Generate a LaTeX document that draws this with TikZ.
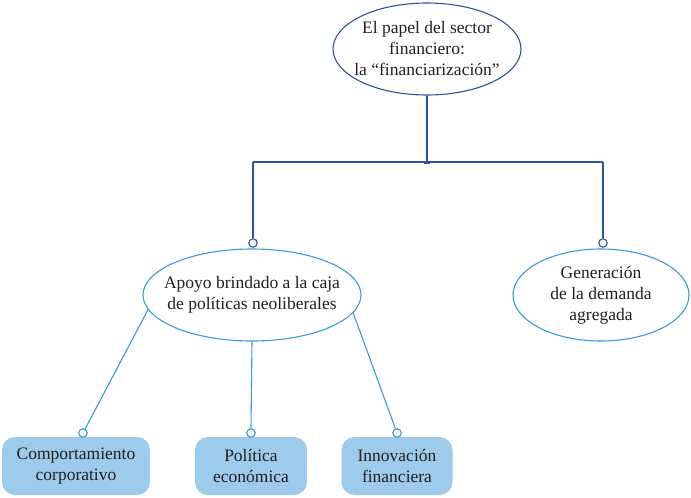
\documentclass[tikz,border=0pt]{standalone}
\usepackage{fontspec}
\setmainfont{Liberation Serif}
\usetikzlibrary{shapes.geometric,calc}
\definecolor{darkblue}{HTML}{2B5597}
\definecolor{lightblue}{HTML}{3C9BD5}
\definecolor{boxfill}{HTML}{9DCBEC}
\definecolor{txt}{HTML}{231F20}
\begin{document}
\begin{tikzpicture}[x=1pt,y=-1pt,
  lbl/.style={text=txt,align=center,inner sep=0pt,font=\fontsize{17.5}{21}\selectfont},
  topell/.style={ellipse,draw=darkblue,line width=1.1pt,inner sep=0pt},
  subell/.style={ellipse,draw=lightblue,line width=1.1pt,inner sep=0pt},
  leafbox/.style={rounded corners=13pt,fill=boxfill,minimum width=#1,minimum height=58pt,inner sep=0pt,lbl},
  darkline/.style={draw=darkblue,line width=1.1pt},
  lightline/.style={draw=lightblue,line width=1.1pt},
  darkknob/.style={circle,draw=darkblue,fill=white,line width=1.1pt,minimum size=8.5pt,inner sep=0pt},
  lightknob/.style={circle,draw=lightblue,fill=white,line width=1.1pt,minimum size=8.5pt,inner sep=0pt}]
\useasboundingbox (0,0) rectangle (691,498);
\fill[white] (0,0) rectangle (691,498);

\node[topell,minimum width=188pt,minimum height=92pt] (top) at (427,49) {};
\node[lbl] (toptxt) at (top) {El papel del sector\\financiero:\\la “financiarización”};
\node[subell,minimum width=218pt,minimum height=92pt] (apoyo) at (252,295) {};
\node[lbl] (apoyotxt) at (apoyo) {Apoyo brindado a la caja\\de políticas neoliberales};
\node[subell,minimum width=176pt,minimum height=92pt] (gen) at (601,295) {};
\node[lbl] (gentxt) at (gen) {Generación\\de la demanda\\agregada};

\node[leafbox=148pt] (comp) at (76,466) {Comportamiento\\corporativo};
\node[leafbox=112pt] (pol) at (251,466) {Política\\económica};
\node[leafbox=111pt] (inn) at (397,466) {Innovación\\financiera};

\coordinate (junc) at (427,162);
\coordinate (jl) at (253,162);
\coordinate (jr) at (603,162);
\node[darkknob] (k1) at (253,243) {};
\node[darkknob] (k2) at (603,243) {};

\draw[darkline] (top.south) -- (junc);
\draw[darkline] (jl) -- (jr);
\fill[darkblue] ($(junc)+(-3,-1.5)$) rectangle ($(junc)+(3,2)$);
\draw[darkline] (jl) -- (k1.north);
\draw[darkline] (jr) -- (k2.north);

\node[lightknob] (b1) at (83,433) {};
\node[lightknob] (b2) at (251,433) {};
\node[lightknob] (b3) at (397,433) {};
\draw[lightline] (apoyo.188) -- (b1);
\draw[lightline] (apoyo.south) -- (b2.north);
\draw[lightline] (apoyo.350) -- (b3);
\end{tikzpicture}
\end{document}
